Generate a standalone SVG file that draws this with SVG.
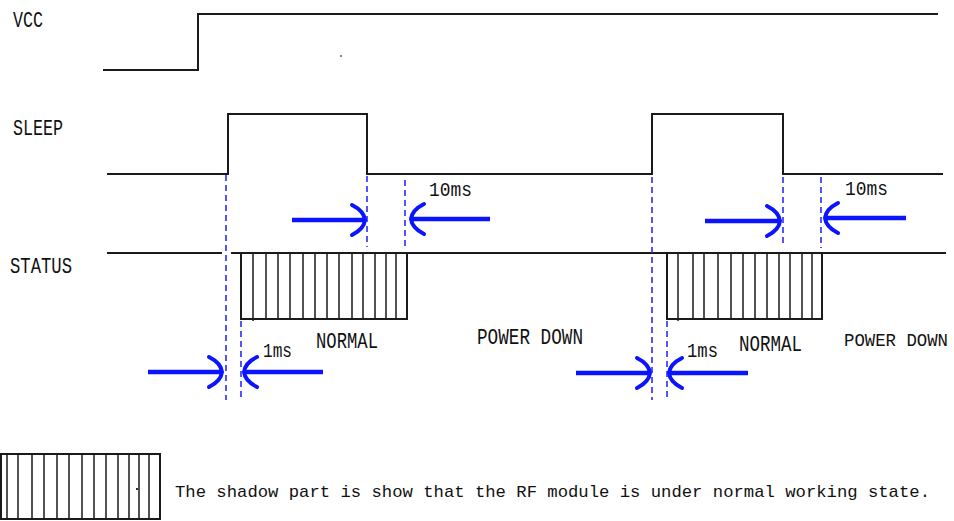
<svg xmlns="http://www.w3.org/2000/svg" width="954" height="521" viewBox="0 0 954 521">
<style>
.sig{fill:none;stroke:#1a1a1a;stroke-width:2}
.hat{fill:none;stroke:#1a1a1a;stroke-width:1.5}
.dash{fill:none;stroke:#2a2aff;stroke-width:1.6;stroke-dasharray:6 4}
.arr{fill:none;stroke:#0a14ff;stroke-width:4.5}
.lbl{font-family:"Liberation Mono","DejaVu Sans Mono",monospace;font-size:22px;fill:#111}
.sm{font-family:"Liberation Mono","DejaVu Sans Mono",monospace;font-size:20px;fill:#111}
.leg{font-family:"Liberation Mono","DejaVu Sans Mono",monospace;font-size:17px;fill:#111}
</style>
<defs>
<marker id="ah" markerUnits="userSpaceOnUse" viewBox="-18 -20 22 40" markerWidth="22" markerHeight="40" refX="0" refY="0" orient="auto">
<path d="M-13,-15 Q-1,-9 0,0 Q-1,9 -13,15" fill="none" stroke="#0a14ff" stroke-width="4" stroke-linecap="round"/>
</marker>
</defs>
<rect width="954" height="521" fill="#fff"/>
<g id="vcc">
<text class="lbl" x="13" y="27" textLength="30" lengthAdjust="spacingAndGlyphs">VCC</text>
<polyline class="sig" points="103,70 198,70 198,14 938,14"/>
<rect x="340" y="55" width="2" height="2" fill="#888"/>
</g>
<g id="sleep">
<text class="lbl" x="13" y="135" textLength="50" lengthAdjust="spacingAndGlyphs">SLEEP</text>
<polyline class="sig" points="107,174 228,174 228,114 367,114 367,174 652,174 652,114 783,114 783,174 943,174"/>
</g>
<g id="status">
<text class="lbl" x="10" y="273" textLength="62" lengthAdjust="spacingAndGlyphs">STATUS</text>
<polyline class="sig" points="107,253 222,253"/>
<polyline class="sig" points="231,253 946,253"/>
<g id="shade1">
<polyline class="sig" points="241,253 241,319 407,319 407,253"/>
<path class="hat" d="M253,253V321M266,253V319M278,253V319M290,253V319M303,253V319M315,253V319M327,253V319M339,253V319M352,253V319M363,253V319M375,253V319M386,253V319M396,253V319"/>
</g>
<g id="shade2">
<polyline class="sig" points="667,253 667,319 822,319 822,253"/>
<path class="hat" d="M678,253V321M693,253V319M704,253V319M718,253V319M731,253V319M743,253V319M755,253V319M767,253V319M779,253V319M790,253V319M802,253V319M812,253V319"/>
</g>
</g>
<g id="connectors">
<path class="dash" d="M226,175V400M241,321V400M367,176V247M405,180V248M652,177V400M667,321V400M783,177V247M821,177V248"/>
<line class="arr" x1="292" y1="220" x2="365" y2="220" marker-end="url(#ah)"/>
<line class="arr" x1="490" y1="219" x2="411" y2="219" marker-end="url(#ah)"/>
<line class="arr" x1="148" y1="372" x2="222" y2="372" marker-end="url(#ah)"/>
<line class="arr" x1="323" y1="372" x2="244" y2="372" marker-end="url(#ah)"/>
<line class="arr" x1="705" y1="221" x2="780" y2="221" marker-end="url(#ah)"/>
<line class="arr" x1="906" y1="218" x2="825" y2="218" marker-end="url(#ah)"/>
<line class="arr" x1="576" y1="373" x2="650" y2="373" marker-end="url(#ah)"/>
<line class="arr" x1="748" y1="373" x2="669" y2="373" marker-end="url(#ah)"/>
</g>
<g id="labels">
<text class="sm" x="429" y="196" textLength="43" lengthAdjust="spacingAndGlyphs">10ms</text>
<text class="sm" x="845" y="195" textLength="43" lengthAdjust="spacingAndGlyphs">10ms</text>
<text class="sm" x="263" y="357" textLength="29" lengthAdjust="spacingAndGlyphs">1ms</text>
<text class="sm" x="687" y="357" textLength="31" lengthAdjust="spacingAndGlyphs">1ms</text>
<text class="lbl" x="316" y="348" textLength="62" lengthAdjust="spacingAndGlyphs">NORMAL</text>
<text class="lbl" x="739" y="351" textLength="63" lengthAdjust="spacingAndGlyphs">NORMAL</text>
<text class="lbl" x="477" y="344" textLength="106" lengthAdjust="spacingAndGlyphs">POWER DOWN</text>
<text class="lbl" x="844" y="346" style="font-size:17.5px" textLength="104" lengthAdjust="spacingAndGlyphs">POWER DOWN</text>
</g>
<g id="legend">
<rect x="1" y="454" width="159" height="65" class="sig"/>
<path class="hat" d="M7,454V519M18,454V519M32,454V519M44,454V519M57,454V519M69,454V519M82,454V519M94,454V519M106,454V519M118,454V519M129,454V519M139,454V519M149,454V519"/>
<rect x="136" y="488" width="2" height="2" fill="#333"/>
<text class="leg" x="175" y="497" textLength="755" lengthAdjust="spacingAndGlyphs">The shadow part is show that the RF module is under normal working state.</text>
</g>
</svg>
